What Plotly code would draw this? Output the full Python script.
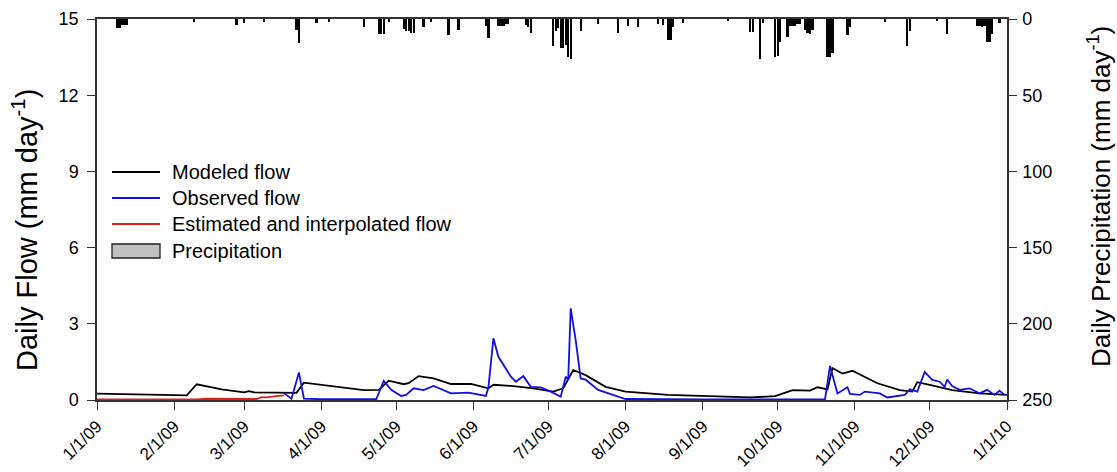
import plotly.graph_objects as go

# ---------------- data ----------------
modeled_dates = ["2009-01-01","2009-01-20","2009-02-06","2009-02-10","2009-02-20","2009-03-01",
                 "2009-03-03","2009-03-05","2009-03-16","2009-03-22","2009-03-25","2009-04-18",
                 "2009-04-24","2009-04-28","2009-05-04","2009-05-06","2009-05-10","2009-05-16",
                 "2009-05-23","2009-05-31","2009-06-07","2009-06-09","2009-06-17","2009-06-25",
                 "2009-07-03","2009-07-07","2009-07-11","2009-07-16","2009-07-24","2009-08-01",
                 "2009-08-18","2009-09-07","2009-09-20","2009-09-30","2009-10-07","2009-10-14",
                 "2009-10-17","2009-10-21","2009-10-23","2009-10-27","2009-10-31","2009-11-10",
                 "2009-11-19","2009-11-24","2009-11-26","2009-12-01","2009-12-10","2009-12-21",
                 "2010-01-01"]
modeled_vals = [0.25,0.22,0.18,0.62,0.42,0.30,
                0.35,0.30,0.27,0.28,0.68,0.39,
                0.40,0.76,0.62,0.66,0.94,0.85,
                0.63,0.63,0.46,0.60,0.55,0.46,
                0.33,0.46,1.18,0.98,0.52,0.33,
                0.20,0.15,0.10,0.15,0.39,0.37,
                0.50,0.42,1.26,1.04,1.15,0.66,
                0.39,0.33,0.70,0.60,0.39,0.26,
                0.20]

observed_dates = ["2009-03-17","2009-03-20","2009-03-23","2009-03-25","2009-04-01","2009-04-23",
                  "2009-04-26","2009-04-29","2009-05-03","2009-05-05","2009-05-08","2009-05-12",
                  "2009-05-16","2009-05-23","2009-05-30","2009-06-05","2009-06-06","2009-06-07",
                  "2009-06-09","2009-06-11","2009-06-16","2009-06-18","2009-06-21","2009-06-24",
                  "2009-06-28","2009-07-02","2009-07-05","2009-07-06","2009-07-08","2009-07-09",
                  "2009-07-10","2009-07-12","2009-07-14","2009-07-16","2009-07-21","2009-08-01",
                  "2009-09-01","2009-10-01","2009-10-20","2009-10-22","2009-10-25","2009-10-29",
                  "2009-10-30","2009-11-03","2009-11-05","2009-11-11","2009-11-14","2009-11-21",
                  "2009-11-23","2009-11-26","2009-11-29","2009-12-02","2009-12-05","2009-12-07",
                  "2009-12-08","2009-12-10","2009-12-13","2009-12-17","2009-12-21","2009-12-24",
                  "2009-12-27","2009-12-29","2009-12-31"]
observed_vals = [0.27,0.05,1.08,0.05,0.03,0.03,
                 0.75,0.40,0.16,0.20,0.46,0.39,
                 0.55,0.26,0.29,0.20,0.16,0.50,
                 2.43,1.70,0.92,0.72,0.94,0.52,
                 0.50,0.33,0.16,0.13,0.92,0.79,
                 3.61,2.36,0.85,0.80,0.40,0.04,
                 0.02,0.02,0.02,1.34,0.26,0.50,
                 0.24,0.20,0.33,0.26,0.10,0.20,
                 0.42,0.33,1.11,0.79,0.72,0.52,
                 0.81,0.55,0.40,0.46,0.26,0.40,
                 0.20,0.37,0.20]

estimated_dates = ["2009-01-01","2009-02-10","2009-02-14","2009-02-20","2009-03-03","2009-03-06",
                   "2009-03-08","2009-03-10","2009-03-13","2009-03-17"]
estimated_vals = [0.02,0.02,0.05,0.04,0.02,0.04,0.11,0.10,0.14,0.18]

precip_dates = ["2009-01-09","2009-01-10","2009-01-11","2009-01-12","2009-01-13","2009-02-09",
                "2009-02-26","2009-03-01","2009-03-09","2009-03-22","2009-03-23","2009-03-30",
                "2009-04-04","2009-04-18","2009-04-24","2009-04-25","2009-04-26","2009-04-28",
                "2009-05-04","2009-05-05","2009-05-06","2009-05-07","2009-05-08","2009-05-12",
                "2009-05-15","2009-05-22","2009-05-26","2009-06-06","2009-06-07","2009-06-11",
                "2009-06-12","2009-06-13","2009-06-14","2009-06-15","2009-06-22","2009-06-23",
                "2009-06-24","2009-07-03","2009-07-04","2009-07-05","2009-07-06","2009-07-07",
                "2009-07-08","2009-07-09","2009-07-10","2009-07-14","2009-07-21","2009-07-29",
                "2009-08-02","2009-08-06","2009-08-14","2009-08-16","2009-08-18","2009-08-19",
                "2009-08-20","2009-08-24","2009-09-11","2009-09-20","2009-09-21","2009-09-24",
                "2009-09-25","2009-09-30","2009-10-01","2009-10-02","2009-10-05","2009-10-06",
                "2009-10-07","2009-10-08","2009-10-09","2009-10-10","2009-10-12","2009-10-13",
                "2009-10-14","2009-10-15","2009-10-21","2009-10-22","2009-10-23","2009-10-29",
                "2009-10-30","2009-11-13","2009-11-22","2009-11-23","2009-12-04","2009-12-08",
                "2009-12-20","2009-12-21","2009-12-22","2009-12-23","2009-12-24","2009-12-25",
                "2009-12-26","2009-12-29"]
precip_vals = [6,6,4,4,4,2,
               4,2.6,2,7,16,2.6,
               2,5.5,10,10,10,2,
               6.6,7.6,7.6,9,9,5.5,
               2,10.5,7,4.4,12.7,4.4,
               4.4,4.4,3.3,3.3,4,5,
               9,18,8,6,19,19,
               17,25,26,7.6,3.3,9,
               4.4,5.5,3.3,4,14,14,
               5,2.6,1.3,8.7,8.7,26,
               2.5,25,24,15,12,4.4,
               4.4,4.4,3.3,3,7,9,
               10,7,25,25,22,10.5,
               5,1.7,18,8,1.3,10,
               4.4,4.4,5,4.4,15,15,
               10,2.6]

tick_dates = ["2009-01-01","2009-02-01","2009-03-01","2009-04-01","2009-05-01","2009-06-01",
              "2009-07-01","2009-08-01","2009-09-01","2009-10-01","2009-11-01","2009-12-01",
              "2010-01-01"]
tick_labels = ["1/1/09","2/1/09","3/1/09","4/1/09","5/1/09","6/1/09","7/1/09","8/1/09",
               "9/1/09","10/1/09","11/1/09","12/1/09","1/1/10"]

legend_labels = ["Modeled flow", "Observed flow", "Estimated and interpolated flow", "Precipitation"]
line_colors = ["black", "#1010e0", "#e02020"]
left_title = "Daily Flow (mm day<sup>-1</sup>)"
right_title = "Daily Precipitation (mm day<sup>-1</sup>)"

# ---------------- figure ----------------
FONT = "Liberation Sans, Arial, sans-serif"
W, H = 1117, 472
ML, MR, MT, MB = 97, 110, 19, 72
PW, PH = W - ML - MR, H - MT - MB

def px_x(px):
    return (px - ML) / PW

def px_y(py):
    return (H - MB - py) / PH

fig = go.Figure()

fig.add_trace(go.Bar(x=precip_dates, y=precip_vals, yaxis="y2", marker=dict(color="black", line=dict(width=0)),
                     width=86400000 * 0.9, name=legend_labels[3]))
fig.add_trace(go.Scatter(x=modeled_dates, y=modeled_vals, mode="lines", name=legend_labels[0],
                         line=dict(color=line_colors[0], width=1.8)))
fig.add_trace(go.Scatter(x=observed_dates, y=observed_vals, mode="lines", name=legend_labels[1],
                         line=dict(color=line_colors[1], width=1.8)))
fig.add_trace(go.Scatter(x=estimated_dates, y=estimated_vals, mode="lines", name=legend_labels[2],
                         line=dict(color=line_colors[2], width=1.8)))

# legend drawn as shapes + text (matches the reference's long symbols)
row_y = [172, 198, 224, 251]
x0, x1, xt = 112, 160, 170
shapes = []
annotations = []
for i, lab in enumerate(legend_labels):
    yy = px_y(row_y[i])
    if i < 3:
        shapes.append(dict(type="line", xref="paper", yref="paper", x0=px_x(x0), x1=px_x(x1), y0=yy, y1=yy,
                           line=dict(color=line_colors[i], width=1.8)))
    else:
        shapes.append(dict(type="rect", xref="paper", yref="paper", x0=px_x(x0), x1=px_x(x1),
                           y0=px_y(row_y[i] + 7), y1=px_y(row_y[i] - 7),
                           fillcolor="#c0c0c0", line=dict(color="#222", width=1.3)))
    annotations.append(dict(text=lab, xref="paper", yref="paper", x=px_x(xt), y=yy, xanchor="left",
                            yanchor="middle", showarrow=False, font=dict(size=20, family=FONT, color="black")))

# axis titles as rotated text, placed as in the reference
annotations.append(dict(text=left_title, xref="paper", yref="paper", x=px_x(25), y=px_y(230),
                        xanchor="center", yanchor="middle", textangle=-90, showarrow=False,
                        font=dict(size=29, family=FONT, color="black")))
annotations.append(dict(text=right_title, xref="paper", yref="paper", x=px_x(1099), y=px_y(197),
                        xanchor="center", yanchor="middle", textangle=-90, showarrow=False,
                        font=dict(size=26, family=FONT, color="black")))

AX = dict(ticks="outside", ticklen=8, tickwidth=1.2, tickcolor="#333", showline=True,
          linecolor="#333", linewidth=1.5, showgrid=False, zeroline=False,
          tickfont=dict(size=18), automargin=False)

fig.update_layout(
    width=W, height=H,
    margin=dict(l=ML, r=MR, t=MT, b=MB),
    paper_bgcolor="white", plot_bgcolor="white",
    font=dict(family=FONT, color="black", size=18),
    bargap=0,
    showlegend=False,
    shapes=shapes,
    annotations=annotations,
    xaxis=dict(type="date", range=["2009-01-01", "2010-01-01"], tickmode="array",
               tickvals=tick_dates, ticktext=tick_labels, tickangle=-45, mirror=True,
               **{**AX, "tickfont": dict(size=17)}),
    yaxis=dict(range=[0, 15], tickvals=[0, 3, 6, 9, 12, 15], ticklabelstandoff=5, **AX),
    yaxis2=dict(range=[250, 0], overlaying="y", side="right", tickvals=[0, 50, 100, 150, 200, 250],
                ticklabelstandoff=2, **AX),
)

fig.write_html("out.html")
